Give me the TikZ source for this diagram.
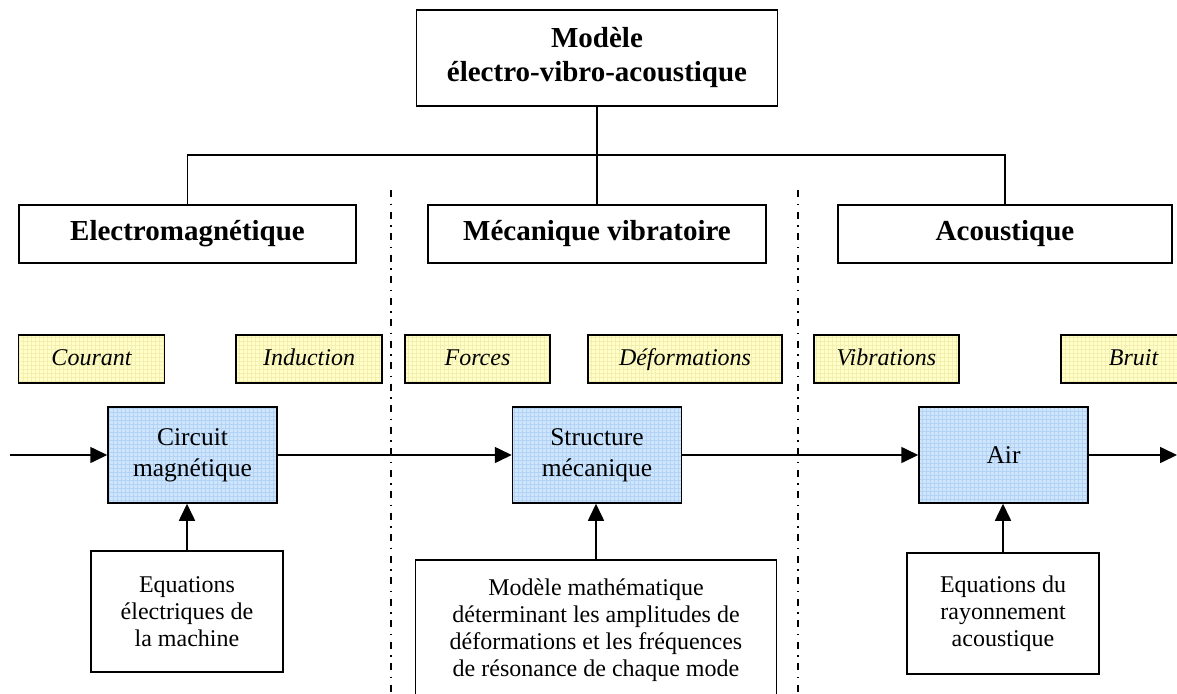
\documentclass[tikz,border=0pt]{standalone}
\usepackage{fontspec}
\setmainfont{Liberation Serif}
\usetikzlibrary{arrows.meta}
\definecolor{bluefill}{RGB}{206,229,252}
\definecolor{bluegrid}{RGB}{178,210,246}
\definecolor{yelfill}{RGB}{255,255,202}
\definecolor{yelgrid}{RGB}{246,238,175}
\tikzset{
  box/.style={draw, line width=1.5pt, align=center, inner sep=0pt,
    font=\fontsize{24}{27}\selectfont},
  titlebox/.style={box, font=\fontsize{29}{34}\selectfont\bfseries},
  qtybox/.style={box, font=\fontsize{24}{27}\selectfont\itshape,
    minimum height=48pt, text height=17pt, text depth=5pt, fill=yelfill,
    path picture={\draw[yelgrid, line width=0.5pt, step=4pt]
      (path picture bounding box.south west) grid (path picture bounding box.north east);}},
  sysbox/.style={box, font=\fontsize{25.5}{31}\selectfont,
    minimum width=169pt, minimum height=96pt, fill=bluefill,
    path picture={\draw[bluegrid, line width=0.5pt, step=4pt]
      (path picture bounding box.south west) grid (path picture bounding box.north east);}},
  eqbox/.style={box},
  tree/.style={line width=1.4pt},
  flow/.style={line width=1.6pt, -{Triangle[length=17pt,width=16pt]}},
  sep/.style={line width=1.7pt, dash pattern=on 7pt off 6.5pt on 1.5pt off 6.5pt},
}
\begin{document}
\begin{tikzpicture}[x=1pt,y=-1pt]
\clip (0,0) rectangle (1177,693);
% top
\node[titlebox, minimum width=361pt, minimum height=96pt] (top) at (597,58) {Modèle\\électro-vibro-acoustique};
% domains
\node[titlebox, minimum width=337pt, minimum height=58pt] (em) at (187.5,234) {Electromagnétique};
\node[titlebox, minimum width=338pt, minimum height=58pt] (mv) at (597,234) {Mécanique vibratoire};
\node[titlebox, minimum width=334pt, minimum height=58pt] (ac) at (1005,234) {Acoustique};
\coordinate (j) at (597,155);
\draw[tree] (top.south) -- (j);
\draw[tree] (em.north) |- (j) -| (ac.north);
\draw[tree] (j) -- (mv.north);
% separators
\coordinate (s1a) at (391,190); \coordinate (s1b) at (391,693);
\coordinate (s2a) at (798,190); \coordinate (s2b) at (798,693);
\draw[sep] (s1a) -- (s1b);
\draw[sep] (s2a) -- (s2b);
% quantities
\node[qtybox, minimum width=146pt] (cour) at (91.5,359) {Courant};
\node[qtybox, minimum width=146pt] (ind) at (309,359) {Induction};
\node[qtybox, minimum width=145pt] (forc) at (477.5,359) {Forces};
\node[qtybox, minimum width=194pt] (def) at (685,359) {Déformations};
\node[qtybox, minimum width=145pt] (vib) at (886.5,359) {Vibrations};
\node[qtybox, minimum width=145pt] (bruit) at (1133.5,359) {Bruit};
% systems
\node[sysbox] (circ) at (192.5,455) {Circuit\\magnétique};
\node[sysbox] (struc) at (597,455) {Structure\\mécanique};
\node[sysbox] (air) at (1003.5,455) {Air};
\coordinate (in) at (10,455);
\coordinate (out) at (1177,455);
\draw[flow] (in) -- (circ.west);
\draw[flow] (circ.east) -- (struc.west);
\draw[flow] (struc.east) -- (air.west);
\draw[flow] (air.east) -- (out);
% equations
\node[eqbox, minimum width=192pt, minimum height=121pt] (eq1) at (187,611.5) {Equations\\électriques de\\la machine};
\node[eqbox, minimum width=361pt, minimum height=140pt] (eq2) at (596,630) {Modèle mathématique\\déterminant les amplitudes de\\déformations et les fréquences\\de résonance de chaque mode};
\node[eqbox, minimum width=192pt, minimum height=121pt] (eq3) at (1003,613.5) {Equations du\\rayonnement\\acoustique};
\draw[flow] (eq1.north) -- (circ.south -| eq1.north);
\draw[flow] (eq2.north) -- (struc.south -| eq2.north);
\draw[flow] (eq3.north) -- (air.south -| eq3.north);
\end{tikzpicture}
\end{document}
